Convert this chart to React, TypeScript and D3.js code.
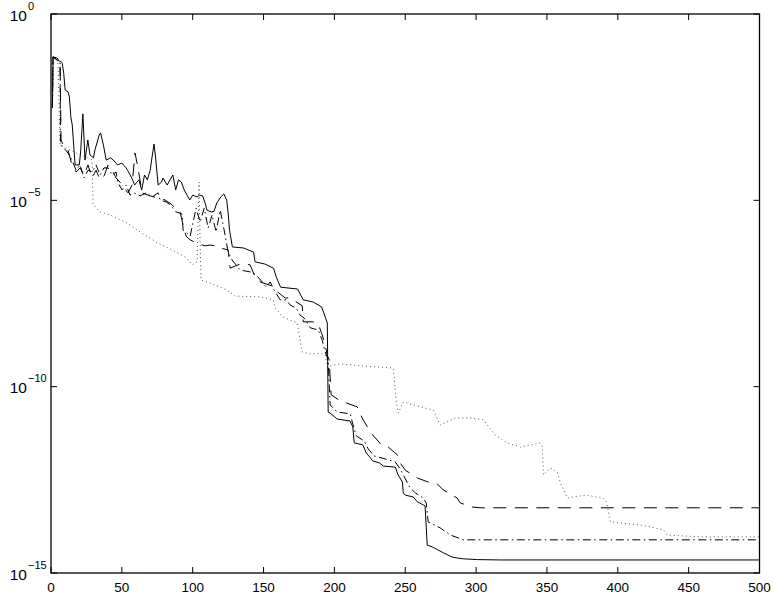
import React from "react";
import * as d3 from "d3";

// x tick values and y tick exponents (log10)
const xTickValues = [0, 50, 100, 150, 200, 250, 300, 350, 400, 450, 500];
const yTickExponents = [0, -5, -10, -15];

// Each series: [iteration, log10(error)]
const solidSeries: [number, number][] = [
  [1, -2.52], [1.5, -1.15], [4, -1.23], [7.5, -1.29], [8, -1.33], [9, -1.6], [10, -2.04], [12, -2.09], [13, -2.23], [14, -2.76], [15, -2.98],
  [17, -4.05], [20, -4.05], [21, -3.65], [22.5, -2.68], [24, -3.92], [25, -3.65], [26, -3.38], [27.5, -3.78],
  [30, -3.86], [31, -3.65], [34, -3.25], [35, -3.19], [37, -3.52], [39, -3.92], [42, -3.86], [44, -3.92],
  [47, -4.05], [50, -4.0], [53, -4.13], [54, -4.19], [57, -4.4], [59, -4.59], [62, -4.45], [64, -4.72],
  [66, -4.32], [68, -4.45], [70, -4.19], [71, -3.92], [72.7, -3.49], [74, -3.92], [75.6, -4.59], [78, -4.51],
  [79, -4.4], [82, -4.59], [84, -4.45], [86, -4.32], [88, -4.72], [90, -4.45], [92, -4.51], [94, -4.72],
  [96, -4.86], [98, -4.99], [100, -4.86], [103, -4.91], [105, -4.86], [107, -4.88], [109, -5.1], [110, -5.26],
  [113, -5.31], [115, -5.3], [117, -5.07], [120, -4.9], [122, -4.83], [124, -5.0], [125, -5.34], [126, -5.8],
  [128, -6.25], [136, -6.28], [143, -6.39], [144, -6.65], [151, -6.71], [157, -6.82], [159, -7.06], [162, -7.33],
  [174, -7.38], [178, -7.67], [185, -7.73], [191, -7.86], [195, -8.29], [195.6, -10.68], [197, -10.71],
  [202, -10.87], [211, -10.92], [213, -11.08], [214, -11.51], [220, -11.56], [222.5, -11.78], [225, -11.89],
  [227, -11.99], [232, -12.05], [234.5, -12.13], [243, -12.16], [245, -12.37], [248, -12.56], [248.6, -12.85],
  [250, -12.91], [255.6, -12.96], [258.5, -13.09], [262.7, -13.17], [264, -13.2], [265.5, -14.25], [269, -14.3],
  [273, -14.38], [277, -14.46], [283, -14.57], [287, -14.6], [291, -14.62], [301, -14.64], [317, -14.65], [500, -14.65],
];

const dashedSeries: [number, number][] = [
  [1, -2.52], [1.4, -1.15], [4.2, -1.23], [6.4, -1.29], [7.1, -3.38], [9.2, -3.57], [12, -3.65], [14.8, -4.05],
  [17.7, -4.24], [20.5, -4.13], [23.3, -4.32], [26.1, -4.05], [29, -4.4], [31.8, -4.19], [34.6, -4.45],
  [37.4, -4.35], [40.3, -4.05], [43.1, -4.19], [45.9, -4.4], [48.7, -4.51], [51.6, -4.67], [54.4, -4.8],
  [57.2, -4.59], [59.3, -3.73], [61.4, -4.13], [64.3, -4.8], [69.9, -4.88], [75.6, -4.94], [80.5, -4.99],
  [85.5, -5.12], [88.3, -5.26], [91.1, -5.31], [93.2, -5.66], [95.3, -5.96], [98.2, -6.06], [103.8, -6.17],
  [108.8, -6.22], [112.3, -6.2], [115.8, -6.22], [119.4, -6.28], [125, -6.33], [126.4, -6.82], [133.5, -6.71],
  [140.5, -6.73], [144.1, -7.06], [147.6, -7.19], [156.1, -7.3], [158.2, -7.41], [165.3, -7.62], [168.8, -7.62],
  [177.3, -7.83], [178, -8.26], [185, -8.26], [188.6, -8.32], [191.4, -8.61], [193.5, -8.88], [194.9, -9.15],
  [196.3, -9.28], [197.7, -10.22], [204.1, -10.38], [216.1, -10.54], [219.6, -10.84], [222.5, -11.03],
  [225.3, -11.22], [233.8, -11.59], [238, -11.62], [244.4, -11.83], [246.5, -12.05], [250, -12.24],
  [258.5, -12.45], [267.7, -12.58], [272.6, -12.61], [276.8, -12.77], [280.4, -12.85], [286.7, -12.99],
  [288.8, -13.12], [297.3, -13.23], [303, -13.25], [500, -13.25],
];

const dashDotSeries: [number, number][] = [
  [1, -2.52], [1.4, -1.15], [4.2, -1.18], [5.6, -1.23], [6.4, -1.31], [6.7, -3.51], [9.2, -3.6], [12, -3.73],
  [14.8, -3.92], [17.7, -4.19], [20.5, -4.05], [23.3, -4.4], [26.1, -4.19], [29, -4.24], [31.8, -4.05],
  [34.6, -4.32], [37.4, -4.13], [40.3, -4.13], [43.1, -4.32], [45.9, -4.24], [47.3, -4.53], [50.1, -4.72],
  [53, -4.59], [55.8, -4.86], [58.6, -4.8], [62.9, -4.88], [67.1, -4.8], [71.3, -4.91], [75.6, -4.8], [77, -4.99],
  [81.2, -5.04], [84, -5.12], [88.3, -5.31], [92.5, -5.37], [93.2, -5.8], [95.3, -5.85], [98.2, -5.96],
  [102.4, -5.21], [105.2, -5.58], [108.1, -5.21], [110.9, -5.74], [113.7, -5.39], [116.5, -5.85], [119.4, -5.26],
  [122.2, -5.8], [125, -6.39], [127.8, -6.6], [133.5, -6.87], [140.5, -6.92], [144.8, -7.0], [149, -7.19],
  [151.8, -7.32], [154.7, -7.19], [157.5, -7.41], [161.7, -7.67], [166, -7.67], [168.8, -7.81], [173, -7.89],
  [175.8, -8.08], [178.7, -8.16], [182.9, -8.42], [188.6, -8.48], [191.4, -8.75], [193.5, -9.07], [195.6, -9.28],
  [197, -10.49], [202, -10.68], [211.2, -10.73], [212.6, -10.95], [215.4, -11.32], [221, -11.46], [223.9, -11.67],
  [228.1, -11.86], [235.9, -11.94], [242.9, -12.02], [246.5, -12.21], [249.3, -12.42], [253.5, -12.72],
  [257.1, -12.85], [262.7, -12.99], [264.8, -13.12], [266.2, -13.63], [274.7, -13.79], [281.8, -13.98],
  [291, -14.11], [500, -14.11],
];

const dottedSeries: [number, number][] = [
  [1, -2.52], [1.4, -1.15], [4.9, -1.23], [6.4, -3.51], [13.4, -3.65], [20.5, -3.78], [26.1, -3.86], [29, -3.92],
  [29.7, -5.12], [34.6, -5.31], [41.7, -5.39], [53.7, -5.61], [62.9, -5.85], [74.9, -6.14], [85.5, -6.33],
  [96, -6.55], [99.6, -6.73], [103.1, -6.65], [104.5, -4.51], [105.2, -6.06], [105.9, -7.14], [112.3, -7.22],
  [124.3, -7.41], [129.9, -7.57], [147.6, -7.59], [156.8, -7.67], [158.2, -7.89], [163.8, -8.13], [173.7, -8.29],
  [175.8, -8.75], [177.3, -9.07], [182.9, -9.12], [190, -9.1], [193.5, -9.15], [195.6, -9.55], [197, -9.44],
  [204.1, -9.39], [218.2, -9.44], [241.5, -9.5], [243.6, -10.36], [245.1, -10.71], [248.6, -10.41],
  [255.6, -10.49], [269.8, -10.63], [274.7, -11.03], [285.3, -10.84], [295.9, -10.84], [305.1, -10.89],
  [313.6, -11.3], [322, -11.51], [331.2, -11.62], [345.3, -11.51], [346.8, -11.62], [347.5, -12.37],
  [352.4, -12.18], [357.3, -12.29], [359.5, -12.58], [364.4, -12.99], [377.1, -12.91], [389.8, -12.99],
  [392, -13.09], [394.8, -13.63], [416, -13.71], [432.2, -13.84], [435, -13.98], [458.3, -14.03], [500, -14.03],
];

const FONT = "'Liberation Sans', Arial, Helvetica, sans-serif";

export default function App() {
  const W = 773;
  const H = 600;
  const left = 51;
  const right = 759.5;
  const top = 14;
  const bottom = 573;
  const x = d3.scaleLinear().domain([0, 500]).range([left, right]);
  const y = d3.scaleLog().domain([1e-15, 1]).range([bottom, top]);
  const line = d3
    .line<[number, number]>()
    .x((d) => x(d[0]))
    .y((d) => y(Math.pow(10, d[1])));

  const series = [
    { data: dottedSeries, dash: "1 3", width: 1, color: "#555" },
    { data: dashDotSeries, dash: "8 3.5 1.5 3.5", width: 1, color: "#000" },
    { data: dashedSeries, dash: "13 8.5", width: 1, color: "#000" },
    { data: solidSeries, dash: undefined, width: 1, color: "#000" },
  ];
  const tickLen = 6;

  return (
    <svg
      width={W}
      height={H}
      style={{ position: "absolute", left: 0, top: 0, display: "block", background: "#fff" }}
    >
      <rect x={0} y={0} width={W} height={H} fill="#fff" />
      <defs>
        <clipPath id="plotclip">
          <rect x={left} y={top} width={right - left} height={bottom - top} />
        </clipPath>
      </defs>
      <g clipPath="url(#plotclip)">
        {series.map((s, i) => (
          <path
            key={i}
            d={line(s.data) || ""}
            fill="none"
            stroke={s.color}
            strokeWidth={s.width}
            strokeDasharray={s.dash}
            strokeLinejoin="round"
          />
        ))}
      </g>
      {/* frame */}
      <rect x={left} y={top} width={right - left} height={bottom - top} fill="none" stroke="#000" strokeWidth={1.3} />
      {/* x ticks */}
      {xTickValues.map((v) => (
        <g key={"x" + v}>
          <line x1={x(v)} x2={x(v)} y1={bottom} y2={bottom - tickLen} stroke="#000" strokeWidth={1} />
          <line x1={x(v)} x2={x(v)} y1={top} y2={top + tickLen} stroke="#000" strokeWidth={1} />
          <text x={x(v)} y={592} textAnchor="middle" fontFamily={FONT} fontSize={13.5} fill="#000">
            {v}
          </text>
        </g>
      ))}
      {/* y ticks */}
      {yTickExponents.map((e) => {
        const py = y(Math.pow(10, e));
        return (
          <g key={"y" + e}>
            <line x1={left} x2={left + tickLen} y1={py} y2={py} stroke="#000" strokeWidth={1} />
            <line x1={right} x2={right - tickLen} y1={py} y2={py} stroke="#000" strokeWidth={1} />
            <text x={27} y={py + 6.5} textAnchor="end" fontFamily={FONT} fontSize={15.5} fill="#000">
              10
            </text>
            <text x={28} y={py - 4.5} textAnchor="start" fontFamily={FONT} fontSize={11} fill="#000">
              {e === 0 ? "0" : "\u2212" + Math.abs(e)}
            </text>
          </g>
        );
      })}
    </svg>
  );
}
